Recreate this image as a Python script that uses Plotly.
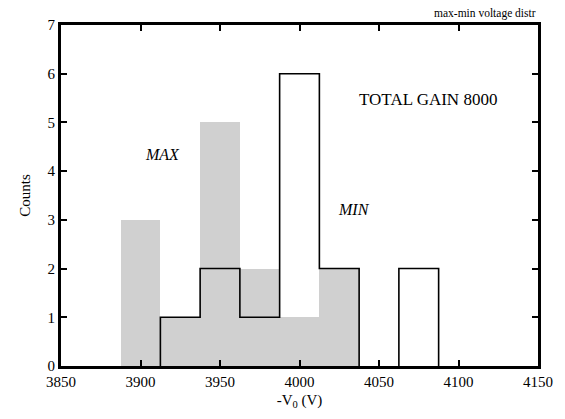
import plotly.graph_objects as go

# Histogram data, 25 V bins (bin centres)
max_centers = [3900, 3925, 3950, 3975, 4000, 4025]
max_counts = [3, 1, 5, 2, 1, 2]

min_centers = [3925, 3950, 3975, 4000, 4025, 4050, 4075]
min_counts = [1, 2, 1, 6, 2, 0, 2]

bin_width = 25
x_ticks = [3850, 3900, 3950, 4000, 4050, 4100, 4150]
y_ticks = [0, 1, 2, 3, 4, 5, 6, 7]

FONT = "Liberation Serif, Times New Roman, serif"

fig = go.Figure()

# MAX distribution: filled gray bars
fig.add_trace(go.Bar(
    x=max_centers, y=max_counts, width=bin_width,
    marker=dict(color="#d0d0d0", line=dict(width=0)),
    showlegend=False,
))

# MIN distribution: open step outline, one segment per run of non-empty bins
step_x, step_y = [], []
run = []
for c, n in list(zip(min_centers, min_counts)) + [(None, 0)]:
    if n > 0:
        run.append((c, n))
        continue
    if run:
        left = run[0][0] - bin_width / 2
        xs = [left, left] + [cc + bin_width / 2 for cc, _ in run]
        ys = [0] + [nn for _, nn in run] + [0]
        step_x += xs + [None]
        step_y += ys + [None]
        run = []

fig.add_trace(go.Scatter(
    x=step_x, y=step_y, mode="lines",
    line=dict(color="black", width=1.6, shape="hv"),
    connectgaps=False, showlegend=False,
))

fig.add_annotation(x=4081, y=5.47, text="TOTAL GAIN 8000", showarrow=False,
                   font=dict(family=FONT, size=17, color="black"), xanchor="center")
fig.add_annotation(x=3914, y=4.35, text="<i>MAX</i>", showarrow=False,
                   font=dict(family=FONT, size=16, color="black"))
fig.add_annotation(x=4034, y=3.22, text="<i>MIN</i>", showarrow=False,
                   font=dict(family=FONT, size=16, color="black"))
fig.add_annotation(xref="paper", yref="paper", x=1, y=1.01, xanchor="right", yanchor="bottom",
                   text="max-min voltage distr", showarrow=False,
                   font=dict(family=FONT, size=11.5, color="black"))

axis_common = dict(
    showline=True, linecolor="black", linewidth=3, mirror="ticks",
    ticks="inside", ticklen=6, tickwidth=1.5, tickcolor="black",
    showgrid=False, zeroline=False,
    tickfont=dict(family=FONT, size=15, color="black"),
)

fig.update_xaxes(range=[3850, 4150], tickvals=x_ticks,
                 title=dict(text="-V<sub>0</sub> (V)", font=dict(family=FONT, size=15, color="black"), standoff=6),
                 **axis_common)
fig.update_yaxes(range=[0, 7], tickvals=y_ticks,
                 title=dict(text="Counts", font=dict(family=FONT, size=15, color="black"), standoff=14),
                 **axis_common)

fig.update_layout(
    width=565, height=419,
    margin=dict(l=61, r=21, t=25, b=51),
    paper_bgcolor="white", plot_bgcolor="white",
    bargap=0,
    font=dict(family=FONT, color="black"),
)

fig.write_html("out.html")
